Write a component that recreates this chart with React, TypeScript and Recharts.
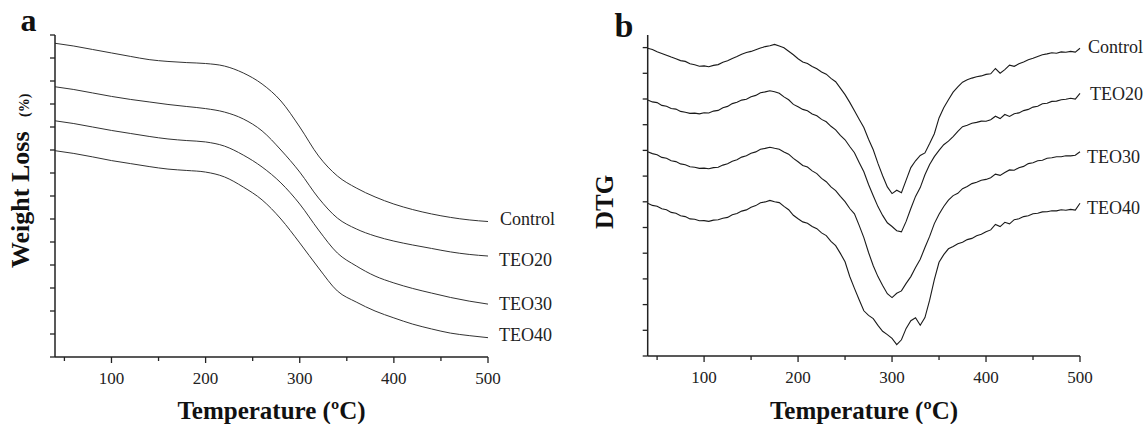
import React from "react";
import { LineChart, Line, XAxis, YAxis } from "recharts";

const FONT = '"Liberation Serif", "Times New Roman", Times, serif';
const INK = "#222";

// ---- panel a: TGA weight loss (arbitrary units, 10 per tick) ----
const tgaTemps = [40, 60, 80, 100, 120, 140, 160, 180, 200, 220, 240, 260, 280, 300, 320, 340, 360, 380, 400, 420, 440, 460, 480, 500];
const tgaControl = [136.4, 135.2, 133.7, 132.2, 130.7, 129.3, 128.5, 128.0, 127.6, 126.5, 123.5, 118.7, 111.3, 100.0, 87.4, 78.7, 73.5, 69.6, 66.5, 64.1, 62.2, 60.7, 59.6, 58.9];
const tgaTeo20 = [117.5, 116.3, 114.8, 113.3, 112.0, 110.9, 109.8, 108.9, 108.0, 106.5, 103.5, 98.3, 90.0, 80.4, 69.1, 60.4, 55.7, 52.6, 50.4, 48.7, 47.2, 45.7, 44.6, 43.9];
const tgaTeo30 = [102.7, 101.5, 100.0, 98.5, 97.2, 95.9, 94.8, 94.1, 93.5, 91.7, 87.8, 82.6, 75.7, 66.5, 55.2, 45.2, 39.6, 35.2, 32.2, 29.8, 27.8, 25.9, 24.3, 23.0];
const tgaTeo40 = [89.7, 88.5, 87.0, 85.4, 84.1, 82.8, 81.7, 81.1, 80.4, 78.3, 73.9, 68.3, 60.0, 49.6, 38.7, 28.7, 23.9, 20.0, 17.0, 14.3, 12.2, 10.4, 9.3, 8.4];
const tgaYTicks = [0, 10, 20, 30, 40, 50, 60, 70, 80, 90, 100, 110, 120, 130, 140];

// ---- panel b: DTG (arbitrary units) ----
const dtgTemps = [
  40, 45, 50, 55, 60, 65, 70, 75, 80, 85, 90, 95, 100, 105, 110, 115, 120, 125, 130, 135, 140, 145, 150, 155, 160,
  165, 170, 175, 180, 185, 190, 195, 200, 205, 210, 215, 220, 225, 230, 235, 240, 245, 250, 255, 260, 265, 270,
  275, 280, 285, 290, 295, 300, 305, 310, 315, 320, 325, 330, 335, 340, 345, 350, 355, 360, 365, 370, 375, 380,
  385, 390, 395, 400, 405, 410, 415, 420, 425, 430, 435, 440, 445, 450, 455, 460, 465, 470, 475, 480, 485, 490,
  495, 500,
];
const dtgControl = [
  307.7, 306.5, 304.2, 302.6, 300.8, 298.9, 297.2, 295.4, 294.6, 292.3, 291.2, 289.8, 290.1, 289.2, 290.6, 291.4,
  293.7, 295.2, 297.6, 299.4, 301.8, 303.5, 304.6, 306.3, 307.9, 309.4, 310.2, 311.6, 310.1, 308.3, 304.8, 301.2,
  297.3, 294.1, 292.4, 289.6, 287.2, 284.1, 281.8, 277.6, 274.3, 267.9, 261.4, 253.6, 245.2, 236.8, 228.4, 216.7,
  206.2, 192.6, 180.3, 169.1, 162.4, 165.8, 163.2, 175.9, 188.4, 195.2, 200.6, 203.1, 212.4, 222.3, 238.1, 248.2,
  256.3, 263.9, 269.1, 273.8, 276.2, 277.9, 279.3, 280.1, 281.6, 282.2, 287.5, 282.8, 286.4, 290.8, 289.7, 292.2,
  294.1, 296.3, 297.8, 299.6, 301.2, 302.1, 303.3, 302.8, 304.1, 303.8, 304.6, 303.9, 307.7,
];
const dtgTeo20 = [
  256.0, 254.1, 253.4, 250.6, 249.8, 247.5, 246.9, 244.6, 243.8, 242.6, 242.9, 242.1, 243.2, 243.0, 244.9, 245.6,
  248.3, 249.6, 252.4, 253.7, 255.9, 256.8, 259.3, 260.6, 263.2, 264.1, 265.3, 264.2, 262.8, 259.1, 256.2, 251.6,
  249.3, 246.6, 245.2, 242.1, 240.3, 236.6, 234.2, 229.7, 226.1, 220.6, 216.2, 209.5, 203.3, 193.6, 184.2, 171.5,
  160.3, 149.4, 140.6, 133.2, 129.5, 125.3, 124.1, 134.6, 147.5, 159.6, 168.4, 181.3, 191.6, 199.4, 205.7, 211.3,
  214.8, 219.4, 224.6, 229.3, 230.8, 232.7, 233.6, 234.9, 234.7, 236.3, 239.8, 237.4, 241.5, 239.6, 242.3, 243.1,
  245.4, 246.6, 248.9, 249.7, 252.3, 252.8, 254.6, 254.9, 256.2, 256.8, 257.7, 256.9, 262.7,
];
const dtgTeo30 = [
  204.3, 202.4, 201.3, 198.6, 197.8, 195.2, 194.4, 192.1, 191.3, 189.2, 188.8, 187.6, 187.9, 187.2, 188.4, 188.7,
  190.9, 192.2, 194.8, 196.3, 198.9, 200.2, 202.8, 204.1, 206.7, 207.6, 208.8, 207.7, 206.8, 204.1, 201.8, 197.6,
  194.3, 190.6, 188.9, 185.1, 182.4, 177.6, 174.3, 169.1, 165.4, 159.6, 154.3, 147.5, 142.2, 130.6, 118.4, 103.5,
  90.3, 79.4, 70.6, 62.3, 58.4, 62.7, 65.1, 72.6, 79.4, 88.6, 96.7, 108.5, 119.6, 132.4, 141.7, 149.5,
  155.8, 160.4, 162.7, 167.3, 169.6, 172.4, 173.7, 175.8, 176.6, 178.3, 181.9, 180.6, 183.5, 186.1, 185.7, 188.3,
  189.6, 192.4, 193.2, 195.3, 195.8, 197.7, 198.2, 199.3, 199.2, 200.3, 200.1, 200.8, 204.3,
];
const dtgTeo40 = [
  152.7, 150.6, 149.8, 147.2, 146.3, 143.6, 142.8, 140.2, 139.4, 137.1, 136.8, 135.2, 135.4, 134.6, 135.9, 136.2,
  137.8, 138.6, 141.3, 142.5, 144.9, 146.1, 148.8, 150.4, 153.3, 154.1, 155.6, 154.2, 153.4, 149.6, 146.3, 140.7,
  137.2, 134.1, 132.8, 129.6, 127.3, 123.1, 120.4, 114.6, 110.3, 102.6, 94.2, 79.5, 67.6, 56.3, 45.2, 40.6,
  37.4, 30.6, 24.7, 21.4, 17.6, 11.3, 16.2, 27.6, 35.3, 38.2, 30.7, 38.4, 55.8, 76.3, 93.7, 101.4,
  107.2, 109.6, 112.3, 113.8, 116.4, 117.6, 120.3, 121.7, 124.2, 126.1, 131.6, 129.4, 133.7, 132.2, 136.3, 137.2,
  139.4, 140.2, 142.3, 142.8, 144.1, 144.3, 145.2, 145.1, 146.2, 145.8, 146.6, 145.9, 152.7,
];
const dtgYTicks = [0, 25.7, 51.4, 77.1, 102.8, 128.5, 154.2, 179.9, 205.6, 231.3, 257, 282.7, 308.4];

const xTicks = [50, 100, 150, 200, 250, 300, 350, 400, 450, 500];
const seriesKeys = ["control", "teo20", "teo30", "teo40"];
const seriesNames = ["Control", "TEO20", "TEO30", "TEO40"];

// end-label nudges (px) for each panel
const tgaLabelOffsets = [
  { dx: 12, dy: 3.5 },
  { dx: 11, dy: 10 },
  { dx: 11, dy: 5.5 },
  { dx: 11, dy: 3 },
];
const dtgLabelOffsets = [
  { dx: 8, dy: 5 },
  { dx: 10, dy: 6.7 },
  { dx: 7, dy: 11.6 },
  { dx: 7, dy: 10.7 },
];

const tgaRows = tgaTemps.map((t, i) => ({
  t,
  control: tgaControl[i],
  teo20: tgaTeo20[i],
  teo30: tgaTeo30[i],
  teo40: tgaTeo40[i],
}));

const dtgRows = dtgTemps.map((t, i) => ({
  t,
  control: dtgControl[i],
  teo20: dtgTeo20[i],
  teo30: dtgTeo30[i],
  teo40: dtgTeo40[i],
}));

function TempTick(props: any) {
  const { x, y, payload } = props;
  const major = payload.value % 100 === 0;
  return (
    <g>
      <line x1={x} x2={x} y1={y} y2={y + (major ? 6 : 4)} stroke={INK} strokeWidth={1.3} />
      {major && (
        <text x={x} y={y + 26.5} textAnchor="middle" fontSize={17} fill={INK} fontFamily={FONT}>
          {payload.value}
        </text>
      )}
    </g>
  );
}

// y ticks: bare marks, no labels
function MarkTick(props: any) {
  const { x, y } = props;
  return <line x1={x - 5} x2={x} y1={y} y2={y} stroke={INK} strokeWidth={1.3} />;
}

function endLabel(name: string, count: number, dx: number, dy: number) {
  return (p: any) => {
    if (p.index !== count - 1) return <g key={`d-${p.index}`} />;
    return (
      <text key={`l-${name}`} x={p.cx + dx} y={p.cy + dy} fontSize={18} fill={INK} fontFamily={FONT}>
        {name}
      </text>
    );
  };
}

function Panel(props: {
  rows: any[];
  yDomain: [number, number];
  yTicks: number[];
  margin: { top: number; right: number; bottom: number; left: number };
  offsets: { dx: number; dy: number }[];
  lineType: "monotone" | "linear";
  stroke: string;
  strokeWidth: number;
}) {
  const { rows, yDomain, yTicks, margin, offsets, lineType, stroke, strokeWidth } = props;
  return (
    <LineChart width={573} height={424} data={rows} margin={margin} style={{ fontFamily: FONT }}>
      <XAxis
        dataKey="t"
        type="number"
        domain={[40, 500]}
        ticks={xTicks}
        interval={0}
        tick={<TempTick />}
        tickLine={false}
        tickSize={0}
        tickMargin={0}
        height={30}
        axisLine={{ stroke: INK, strokeWidth: 1.5 }}
      />
      <YAxis
        type="number"
        domain={yDomain}
        ticks={yTicks}
        interval={0}
        tick={<MarkTick />}
        tickLine={false}
        tickSize={0}
        tickMargin={0}
        axisLine={{ stroke: INK, strokeWidth: 1.5 }}
        width={10}
      />
      {seriesKeys.map((k, i) => (
        <Line
          key={k}
          dataKey={k}
          type={lineType}
          stroke={stroke}
          strokeWidth={strokeWidth}
          dot={endLabel(seriesNames[i], rows.length, offsets[i].dx, offsets[i].dy)}
          activeDot={false}
          isAnimationActive={false}
        />
      ))}
    </LineChart>
  );
}

export default function App() {
  return (
    <div style={{ position: "absolute", left: 0, top: 0, width: 1146, height: 424, background: "#fff" }}>
      <div style={{ position: "absolute", left: 0, top: 0 }}>
        <Panel
          rows={tgaRows}
          yDomain={[0, 140]}
          yTicks={tgaYTicks}
          margin={{ top: 35, right: 85, bottom: 37, left: 45 }}
          offsets={tgaLabelOffsets}
          lineType="monotone"
          stroke="#333"
          strokeWidth={1}
        />
      </div>
      <div style={{ position: "absolute", left: 573, top: 0 }}>
        <Panel
          rows={dtgRows}
          yDomain={[0, 321]}
          yTicks={dtgYTicks}
          margin={{ top: 35, right: 66, bottom: 38, left: 64.7 }}
          offsets={dtgLabelOffsets}
          lineType="linear"
          stroke="#1a1a1a"
          strokeWidth={1.1}
        />
      </div>
      <svg
        width={1146}
        height={424}
        style={{ position: "absolute", left: 0, top: 0, pointerEvents: "none" }}
        fontFamily={FONT}
        fill="#111"
      >
        <text x={20.5} y={31} fontSize={32} fontWeight="bold">a</text>
        <text x={614.5} y={37} fontSize={34} fontWeight="bold">b</text>
        <text transform="translate(28.5,268) rotate(-90)" fontSize={26} fontWeight="bold">Weight Loss</text>
        <text transform="translate(28.5,117) rotate(-90)" fontSize={14} fontWeight="bold">(%)</text>
        <text transform="translate(613,229) rotate(-90)" fontSize={25} fontWeight="bold">DTG</text>
        <text x={271.5} y={419} textAnchor="middle" fontSize={25} fontWeight="bold">Temperature (ºC)</text>
        <text x={864} y={419} textAnchor="middle" fontSize={25} fontWeight="bold">Temperature (ºC)</text>
      </svg>
    </div>
  );
}
